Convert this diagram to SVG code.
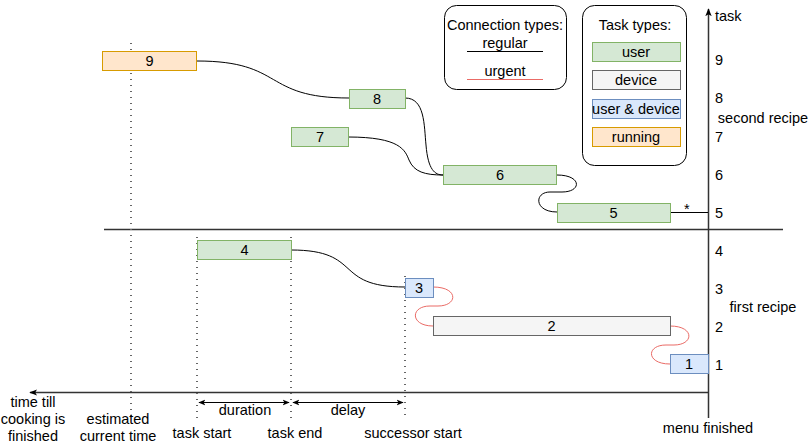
<svg xmlns="http://www.w3.org/2000/svg" width="808" height="445" viewBox="0 0 808 445">
<defs>
<marker id="ah" viewBox="0 0 10 10" refX="9" refY="5" markerWidth="8" markerHeight="8" orient="auto-start-reverse" markerUnits="userSpaceOnUse"><path d="M0,1 L10,5 L0,9 L2.5,5 Z" fill="#000"/></marker>
<marker id="ahs" viewBox="0 0 10 10" refX="9" refY="5" markerWidth="7" markerHeight="7" orient="auto-start-reverse" markerUnits="userSpaceOnUse"><path d="M0,1 L10,5 L0,9 L2.5,5 Z" fill="#000"/></marker>
</defs>
<style>
text{font-family:"Liberation Sans",Arial,sans-serif;font-size:14.5px;fill:#000;}
.c{text-anchor:middle;}
.user{fill:#d5e8d4;stroke:#82b366;stroke-width:1;}
.dev{fill:#f5f5f5;stroke:#666666;stroke-width:1;}
.ud{fill:#dae8fc;stroke:#6c8ebf;stroke-width:1;}
.run{fill:#ffe6cc;stroke:#d79b00;stroke-width:1;}
.reg{fill:none;stroke:#000;stroke-width:1;}
.urg{fill:none;stroke:#ea6b66;stroke-width:1;}
.axis{fill:none;stroke:#333;stroke-width:1.5;}
.dot{fill:none;stroke:#666;stroke-width:2;stroke-dasharray:1 5;}
.leg{fill:#fff;stroke:#000;stroke-width:1;}
</style>
<rect width="808" height="445" fill="#fff"/>

<g id="axes">
<line class="axis" x1="104" y1="229.5" x2="783" y2="229.5"/>
<line class="axis" x1="708.5" y1="392.5" x2="30" y2="392.5" marker-end="url(#ah)"/>
<line class="axis" x1="708.5" y1="418" x2="708.5" y2="9" marker-end="url(#ah)"/>
<text x="715" y="21">task</text>
<text x="715" y="65">9</text>
<text x="715" y="103">8</text>
<text x="715" y="142">7</text>
<text x="715" y="180">6</text>
<text x="715" y="218">5</text>
<text x="715" y="256">4</text>
<text x="715" y="294">3</text>
<text x="715" y="332">2</text>
<text x="715" y="370">1</text>
<text class="c" x="763" y="123">second recipe</text>
<text class="c" x="763" y="312">first recipe</text>
<text class="c" x="708" y="433">menu finished</text>
</g>

<g id="guides">
<line class="dot" x1="131" y1="43" x2="131" y2="420"/>
<line class="dot" x1="197" y1="237" x2="197" y2="420"/>
<line class="dot" x1="291" y1="237" x2="291" y2="420"/>
<line class="dot" x1="405" y1="276" x2="405" y2="420"/>
<line class="reg" x1="199" y1="402.5" x2="289" y2="402.5" marker-start="url(#ahs)" marker-end="url(#ahs)"/>
<line class="reg" x1="293" y1="402.5" x2="403" y2="402.5" marker-start="url(#ahs)" marker-end="url(#ahs)"/>
<text class="c" x="245" y="415">duration</text>
<text class="c" x="348" y="415">delay</text>
<text class="c" x="33" y="407">time till</text>
<text class="c" x="33" y="424">cooking is</text>
<text class="c" x="33" y="441">finished</text>
<text class="c" x="118" y="424">estimated</text>
<text class="c" x="118" y="441">current time</text>
<text class="c" x="202" y="438">task start</text>
<text class="c" x="295" y="438">task end</text>
<text class="c" x="413" y="438">successor start</text>
</g>

<g id="connectors">
<path class="reg" d="M197 61 C 285 61, 262 98, 349 98"/>
<path class="reg" d="M405 98 C 425 98, 424 125, 426 145 C 428 170, 435 175, 443 175"/>
<path class="reg" d="M348 137 C 400 137, 405 150, 409 160 C 414 172, 425 175, 443 175"/>
<path class="reg" d="M557 175 C 582 175, 582 192, 562 192 L 550 192 C 534 192, 534 212, 557 212"/>
<path class="reg" d="M670 212.5 L 708 212.5"/>
<text x="684" y="214" font-size="19px">*</text>
<path class="reg" d="M291 250 C 364 250, 332 287, 405 287"/>
<path class="urg" d="M433 287 C 459 287, 458 306, 438 306 L 430 306 C 410 306, 410 326, 433 326"/>
<path class="urg" d="M670 326 C 695 326, 694 345, 674 345 L 666 345 C 646 345, 646 364, 670 364"/>
</g>

<g id="n9"><rect class="run" x="102.5" y="51.5" width="94" height="19"/><text class="c" x="149.5" y="66">9</text></g>
<g id="n8"><rect class="user" x="349.5" y="89.5" width="56" height="19"/><text class="c" x="377" y="104">8</text></g>
<g id="n7"><rect class="user" x="291.5" y="127.5" width="57" height="19"/><text class="c" x="320" y="142">7</text></g>
<g id="n6"><rect class="user" x="443.5" y="165.5" width="113" height="19"/><text class="c" x="500" y="180">6</text></g>
<g id="n5"><rect class="user" x="557.5" y="203.5" width="113" height="19"/><text class="c" x="613.5" y="218">5</text></g>
<g id="n4"><rect class="user" x="197.5" y="240.5" width="94" height="19"/><text class="c" x="244.5" y="255">4</text></g>
<g id="n3"><rect class="ud" x="405.5" y="278.5" width="28" height="19"/><text class="c" x="419" y="293">3</text></g>
<g id="n2"><rect class="dev" x="433.5" y="316.5" width="237" height="19"/><text class="c" x="551.5" y="331">2</text></g>
<g id="n1"><rect class="ud" x="670.5" y="354.5" width="38" height="19"/><text class="c" x="689" y="369">1</text></g>

<g id="legend-connections">
<rect class="leg" x="444.5" y="5.5" width="122" height="84" rx="12"/>
<text class="c" x="505" y="30">Connection types:</text>
<text class="c" x="505" y="48">regular</text>
<line x1="467" y1="51.5" x2="543" y2="51.5" stroke="#000" stroke-width="1"/>
<text class="c" x="505" y="76">urgent</text>
<line x1="467" y1="79.5" x2="543" y2="79.5" stroke="#ea6b66" stroke-width="1"/>
</g>

<g id="legend-tasks">
<rect class="leg" x="582.5" y="5.5" width="104" height="160" rx="12"/>
<text class="c" x="635" y="30">Task types:</text>
<rect class="user" x="592.5" y="42.5" width="88" height="19"/><text class="c" x="636" y="57">user</text>
<rect class="dev" x="592.5" y="70.5" width="88" height="19"/><text class="c" x="636" y="85">device</text>
<rect class="ud" x="592.5" y="99.5" width="88" height="19"/><text class="c" x="636" y="114">user &amp; device</text>
<rect class="run" x="592.5" y="127.5" width="88" height="19"/><text class="c" x="636" y="142">running</text>
</g>
</svg>
